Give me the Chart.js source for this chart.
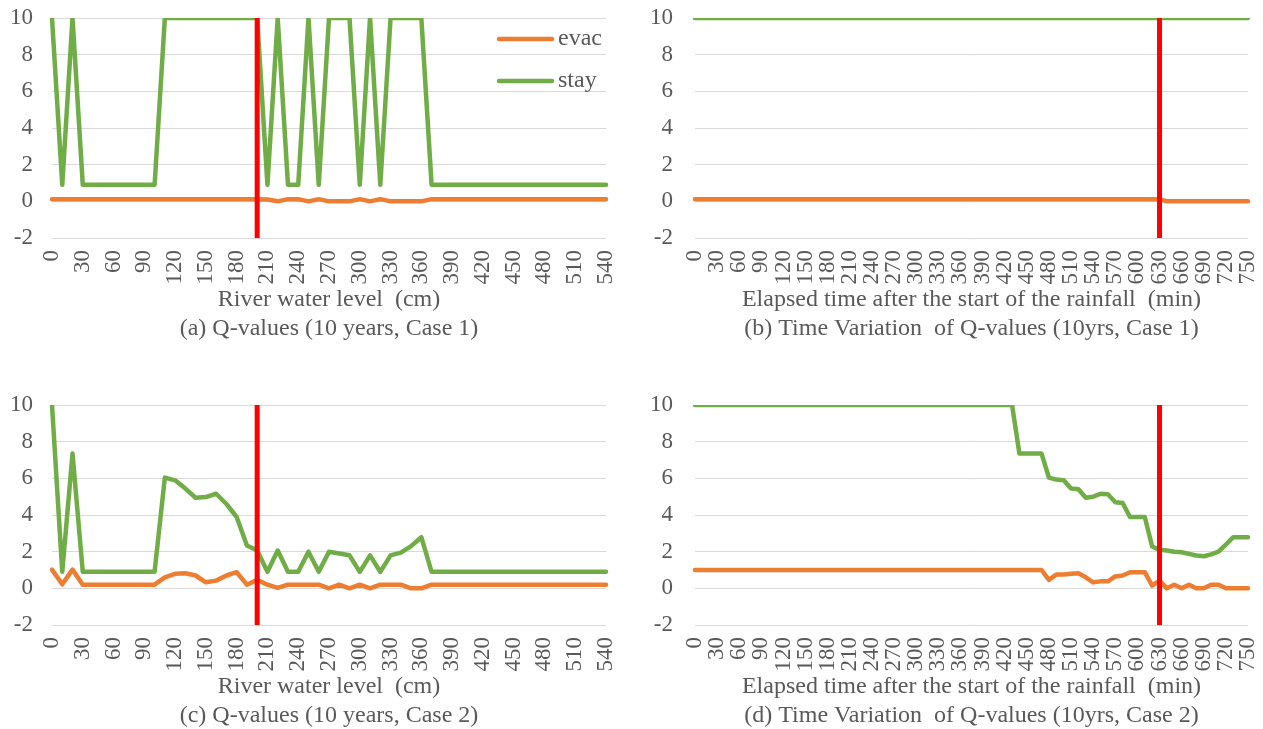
<!DOCTYPE html>
<html>
<head>
<meta charset="utf-8">
<script src="https://cdn.jsdelivr.net/npm/chart.js@4/dist/chart.umd.min.js"></script>
<style>
  html, body { margin: 0; padding: 0; background: #ffffff; }
  body { width: 1263px; height: 729px; position: relative; overflow: hidden; }
  canvas { position: absolute; }
</style>
</head>
<body>
<canvas id="chartA" width="631" height="346" style="left:0px;top:0px"></canvas>
<canvas id="chartB" width="632" height="346" style="left:631px;top:0px"></canvas>
<canvas id="chartC" width="631" height="346" style="left:0px;top:387px"></canvas>
<canvas id="chartD" width="632" height="346" style="left:631px;top:387px"></canvas>
<script>
// ---------- categories ----------
const riverLevels = ["0","10","20","30","40","50","60","70","80","90","100","110","120","130","140","150","160","170","180","190","200","210","220","230","240","250","260","270","280","290","300","310","320","330","340","350","360","370","380","390","400","410","420","430","440","450","460","470","480","490","500","510","520","530","540"];
const elapsedMinutes = ["0","10","20","30","40","50","60","70","80","90","100","110","120","130","140","150","160","170","180","190","200","210","220","230","240","250","260","270","280","290","300","310","320","330","340","350","360","370","380","390","400","410","420","430","440","450","460","470","480","490","500","510","520","530","540","550","560","570","580","590","600","610","620","630","640","650","660","670","680","690","700","710","720","730","740","750"];

// ---------- series values ----------
const evacA = [0.12,0.12,0.12,0.12,0.12,0.12,0.12,0.12,0.12,0.12,0.12,0.12,0.12,0.12,0.12,0.12,0.12,0.12,0.12,0.12,0.12,0.1,0.0,0.12,0.12,0.0,0.12,0.0,0.0,0.0,0.12,0.0,0.12,0.0,0.0,0.0,0.0,0.12,0.12,0.12,0.12,0.12,0.12,0.12,0.12,0.12,0.12,0.12,0.12,0.12,0.12,0.12,0.12,0.12,0.12];
const stayA = [10,0.9,10,0.9,0.9,0.9,0.9,0.9,0.9,0.9,0.9,10,10,10,10,10,10,10,10,10,10,0.9,10,0.9,0.9,10,0.9,10,10,10,0.9,10,0.9,10,10,10,10,0.9,0.9,0.9,0.9,0.9,0.9,0.9,0.9,0.9,0.9,0.9,0.9,0.9,0.9,0.9,0.9,0.9,0.9];

const evacB = [0.12,0.12,0.12,0.12,0.12,0.12,0.12,0.12,0.12,0.12,0.12,0.12,0.12,0.12,0.12,0.12,0.12,0.12,0.12,0.12,0.12,0.12,0.12,0.12,0.12,0.12,0.12,0.12,0.12,0.12,0.12,0.12,0.12,0.12,0.12,0.12,0.12,0.12,0.12,0.12,0.12,0.12,0.12,0.12,0.12,0.12,0.12,0.12,0.12,0.12,0.12,0.12,0.12,0.12,0.12,0.12,0.12,0.12,0.12,0.12,0.12,0.12,0.12,0.12,0.0,0.0,0.0,0.0,0.0,0.0,0.0,0.0,0.0,0.0,0.0,0.0];
const stayB = [10,10,10,10,10,10,10,10,10,10,10,10,10,10,10,10,10,10,10,10,10,10,10,10,10,10,10,10,10,10,10,10,10,10,10,10,10,10,10,10,10,10,10,10,10,10,10,10,10,10,10,10,10,10,10,10,10,10,10,10,10,10,10,10,10,10,10,10,10,10,10,10,10,10,10,10];

const evacC = [1.02,0.22,1.02,0.2,0.2,0.2,0.2,0.2,0.2,0.2,0.2,0.6,0.79,0.82,0.7,0.33,0.42,0.7,0.88,0.2,0.46,0.2,0.02,0.2,0.2,0.2,0.2,0.0,0.2,0.0,0.2,0.0,0.2,0.2,0.2,0.0,0.0,0.2,0.2,0.2,0.2,0.2,0.2,0.2,0.2,0.2,0.2,0.2,0.2,0.2,0.2,0.2,0.2,0.2,0.2];
const stayC = [10,0.9,7.35,0.9,0.9,0.9,0.9,0.9,0.9,0.9,0.9,6.04,5.89,5.44,4.94,4.98,5.16,4.6,3.89,2.34,2.06,0.9,2.06,0.9,0.9,2.0,0.9,2.0,1.9,1.8,0.9,1.8,0.9,1.8,1.95,2.3,2.79,0.9,0.9,0.9,0.9,0.9,0.9,0.9,0.9,0.9,0.9,0.9,0.9,0.9,0.9,0.9,0.9,0.9,0.9];

const evacD = [1,1,1,1,1,1,1,1,1,1,1,1,1,1,1,1,1,1,1,1,1,1,1,1,1,1,1,1,1,1,1,1,1,1,1,1,1,1,1,1,1,1,1,1,1,1,1,1,0.46,0.75,0.75,0.79,0.82,0.6,0.33,0.38,0.38,0.65,0.7,0.88,0.88,0.88,0.15,0.42,0.0,0.2,0.0,0.2,0.0,0.0,0.2,0.2,0.0,0.0,0.0,0.0];
const stayD = [10,10,10,10,10,10,10,10,10,10,10,10,10,10,10,10,10,10,10,10,10,10,10,10,10,10,10,10,10,10,10,10,10,10,10,10,10,10,10,10,10,10,10,10,7.35,7.35,7.35,7.35,6.04,5.93,5.9,5.44,5.4,4.94,5.0,5.16,5.13,4.7,4.65,3.89,3.89,3.89,2.28,2.1,2.06,2.0,1.97,1.88,1.79,1.75,1.85,2.0,2.39,2.79,2.79,2.79];

// ---------- marker positions (category labels) ----------
const markerLevel = "200";
const markerTime = "630";

// ---------- texts ----------
const seriesNames = ["evac", "stay"];
const yTickValues = [-2, 0, 2, 4, 6, 8, 10];
const axisTitleLevel = "River water level  (cm)";
const axisTitleTime = "Elapsed time after the start of the rainfall  (min)";
const captionA = "(a) Q-values (10 years, Case 1)";
const captionB = "(b) Time Variation  of Q-values (10yrs, Case 1)";
const captionC = "(c) Q-values (10 years, Case 2)";
const captionD = "(d) Time Variation  of Q-values (10yrs, Case 2)";

// ---------- styles ----------
const FONT = "'Liberation Serif', 'Times New Roman', serif";
const FS_TICK = 23;
const FS_TITLE = 24;
const TEXT = '#595959';
const GRID = '#D9D9D9';
const ORANGE = '#ED7D31';
const GREEN = '#70AD47';
const RED = '#FF0000';

const markerPlugin = {
  id: 'markerLine',
  afterDatasetsDraw(chart, args, opts) {
    const idx = chart.data.labels.indexOf(opts.at);
    if (idx < 0) return;
    const x = chart.scales.x.getPixelForValue(idx);
    const ca = chart.chartArea;
    const ctx = chart.ctx;
    ctx.save();
    ctx.strokeStyle = RED;
    ctx.lineWidth = 5;
    ctx.beginPath();
    ctx.moveTo(x, ca.top);
    ctx.lineTo(x, ca.bottom);
    ctx.stroke();
    ctx.restore();
  }
};

const insideLegendPlugin = {
  id: 'insideLegend',
  afterDraw(chart, args, opts) {
    if (!opts.show) return;
    const ctx = chart.ctx;
    const ca = chart.chartArea;
    chart.data.datasets.forEach((ds, i) => {
      const y = ca.top + 21 + i * 42;
      const x0 = ca.right - 107;
      ctx.save();
      ctx.strokeStyle = ds.borderColor;
      ctx.lineWidth = 4.5;
      ctx.lineCap = 'round';
      ctx.beginPath();
      ctx.moveTo(x0, y);
      ctx.lineTo(x0 + 53, y);
      ctx.stroke();
      ctx.fillStyle = TEXT;
      ctx.font = FS_TITLE + 'px ' + FONT;
      ctx.textBaseline = 'middle';
      ctx.fillText(ds.label, x0 + 59, y);
      ctx.restore();
    });
  }
};

function makeChart(id, cfg) {
  const topClip = { left: false, top: 0, right: false, bottom: false };
  return new Chart(document.getElementById(id), {
    type: 'line',
    data: {
      labels: cfg.labels,
      datasets: [
        { label: seriesNames[0], data: cfg.evac, borderColor: ORANGE, backgroundColor: ORANGE,
          borderWidth: 4.5, pointRadius: 0, tension: 0, borderJoinStyle: 'round', borderCapStyle: 'round', clip: topClip, order: 2 },
        { label: seriesNames[1], data: cfg.stay, borderColor: GREEN, backgroundColor: GREEN,
          borderWidth: 4.5, pointRadius: 0, tension: 0, borderJoinStyle: 'round', borderCapStyle: 'round', clip: topClip, order: 1 }
      ]
    },
    options: {
      responsive: false,
      animation: false,
      events: [],
      layout: { padding: { top: 18, left: 0, right: cfg.rightPad, bottom: 2.8 } },
      scales: {
        x: {
          type: 'category',
          grid: { display: false, drawTicks: false },
          border: { display: false },
          ticks: {
            autoSkip: false, minRotation: 90, maxRotation: 90, padding: 12,
            color: TEXT, font: { family: FONT, size: FS_TICK },
            callback(v, i) { return i % 3 === 0 ? cfg.labels[i] : ''; }
          },
          title: { display: true, text: [cfg.axisTitle, cfg.caption], color: TEXT, font: { family: FONT, size: FS_TITLE, lineHeight: 1.2 }, padding: { top: 0, bottom: 0 } },
          afterFit(s) { s.height = 105.2; s.paddingLeft = 0; s.paddingRight = 0; }
        },
        y: {
          min: -2, max: 10,
          grid: { color: GRID, lineWidth: 1, drawTicks: false },
          border: { display: false },
          afterBuildTicks(s) { s.ticks = yTickValues.map(v => ({ value: v })); },
          ticks: { color: TEXT, font: { family: FONT, size: FS_TICK }, padding: cfg.yPad },
          afterFit(s) { s.width = cfg.yWidth; s.paddingTop = 0; s.paddingBottom = 0; }
        }
      },
      plugins: {
        legend: { display: false },
        tooltip: { enabled: false },
        title: { display: false },
        markerLine: { at: cfg.marker },
        insideLegend: { show: !!cfg.legend }
      }
    },
    plugins: [markerPlugin, insideLegendPlugin]
  });
}

makeChart('chartA', { labels: riverLevels, evac: evacA, stay: stayA, marker: markerLevel, axisTitle: axisTitleLevel, caption: captionA, yWidth: 52, yPad: 19, rightPad: 25, legend: true });
makeChart('chartB', { labels: elapsedMinutes, evac: evacB, stay: stayB, marker: markerTime, axisTitle: axisTitleTime, caption: captionB, yWidth: 64, yPad: 22, rightPad: 15 });
makeChart('chartC', { labels: riverLevels, evac: evacC, stay: stayC, marker: markerLevel, axisTitle: axisTitleLevel, caption: captionC, yWidth: 52, yPad: 19, rightPad: 25 });
makeChart('chartD', { labels: elapsedMinutes, evac: evacD, stay: stayD, marker: markerTime, axisTitle: axisTitleTime, caption: captionD, yWidth: 64, yPad: 22, rightPad: 15 });
</script>
</body>
</html>
